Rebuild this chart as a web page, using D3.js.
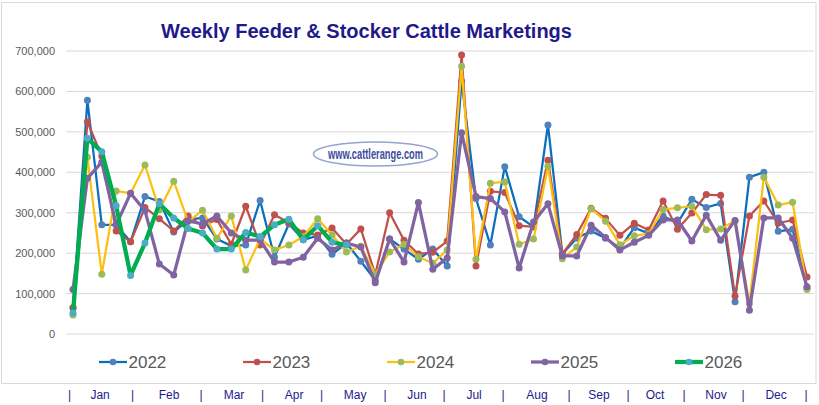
<!DOCTYPE html>
<html>
<head>
<meta charset="utf-8">
<script src="https://cdn.jsdelivr.net/npm/d3@7"></script>
<style>
  html, body { margin: 0; padding: 0; background: #fff; }
  svg { display: block; font-family: "Liberation Sans", Arial, sans-serif; }
</style>
</head>
<body>
<div id="chart"></div>
<script>
// weekly marketings, 52 weeks per year, head count
var y2022 = [65000,578000,270000,270000,228000,340000,328000,252000,283000,287000,235000,218000,220000,330000,190000,272000,233000,243000,197000,225000,180000,133000,235000,210000,185000,210000,168000,625000,335000,220000,414000,290000,265000,517000,198000,237000,255000,237000,212000,263000,249000,292000,274000,333000,313000,323000,80000,388000,400000,254000,259000,113000];
var y2023 = [65000,525000,440000,255000,228000,313000,285000,255000,292000,267000,283000,222000,316000,220000,295000,275000,250000,245000,262000,222000,260000,147000,300000,232000,198000,202000,230000,690000,168000,353000,350000,268000,265000,430000,198000,246000,311000,286000,244000,274000,257000,329000,259000,299000,345000,343000,94000,292000,329000,274000,282000,141000];
var y2024 = [47000,437000,148000,354000,348000,418000,307000,378000,278000,306000,237000,292000,158000,235000,208000,220000,241000,285000,245000,203000,217000,148000,203000,222000,191000,175000,208000,662000,185000,373000,376000,222000,235000,415000,186000,215000,310000,279000,221000,243000,248000,308000,312000,316000,258000,260000,280000,75000,388000,319000,326000,110000];
var y2025 = [110000,385000,425000,270000,348000,305000,173000,146000,280000,272000,292000,250000,232000,232000,178000,178000,190000,237000,208000,225000,215000,127000,235000,178000,325000,160000,188000,498000,340000,335000,302000,163000,277000,322000,193000,193000,269000,239000,208000,227000,244000,282000,282000,230000,294000,232000,281000,59000,287000,287000,237000,117000];
var y2026 = [52000,484000,451000,317000,145000,225000,322000,287000,261000,250000,210000,210000,251000,241000,270000,284000,233000,268000,227000,220000];

var yearNames = ["2022","2023","2024","2025","2026"];
var yearValues = [y2022,y2023,y2024,y2025,y2026];
var lineColors = ["#0a70bd","#c0504d","#fdbf12","#8064a2","#00ad50"];
var dotColors = ["#4f81bd","#c0504d","#9bbb59","#8064a2","#4bacc6"];
var lineWidths = [2.25,2.25,2.25,3.25,4.25];

var yTicks = [0,100000,200000,300000,400000,500000,600000,700000];
var months = ["Jan","Feb","Mar","Apr","May","Jun","Jul","Aug","Sep","Oct","Nov","Dec"];
// week position of the month labels and of the bars between them
var monthWeeks = [1.88,6.67,11.19,15.36,19.6,23.9,27.87,32.24,36.55,40.44,44.68,48.85];
var sepWeeks = [-0.24,4.13,8.9,13.17,17.27,21.68,25.78,29.88,34.47,38.57,42.46,46.56,50.94];

var W = 819, H = 405;
var svg = d3.select("#chart").append("svg").attr("width", W).attr("height", H);

var x = d3.scaleLinear().domain([0, 51]).range([73, 807]);
var y = d3.scaleLinear().domain([0, 700000]).range([334, 51]);

// marco del chart
svg.append("rect").attr("x", 1.5).attr("y", 2.5).attr("width", 814.5).attr("height", 381)
  .attr("fill", "#fff").attr("stroke", "#d9d9d9");

svg.append("text").attr("x", 366.5).attr("y", 38).attr("text-anchor", "middle")
  .attr("font-size", 20).attr("font-weight", "bold").attr("fill", "#1f1a8c")
  .text("Weekly Feeder & Stocker Cattle Marketings");

var fmt = d3.format(",");
var gy = svg.append("g");
gy.selectAll("line").data(yTicks).enter().append("line")
  .attr("x1", 66).attr("x2", 814)
  .attr("y1", function (d) { return y(d); }).attr("y2", function (d) { return y(d); })
  .attr("stroke", "#d9d9d9").attr("stroke-width", 1);
gy.selectAll("text").data(yTicks).enter().append("text")
  .attr("x", 55).attr("y", function (d) { return y(d) + 4; })
  .attr("text-anchor", "end").attr("font-size", 11).attr("fill", "#595959")
  .text(function (d) { return fmt(d); });

// el logo va debajo de las lineas
var logo = svg.append("g");
logo.append("ellipse").attr("cx", 375.5).attr("cy", 154).attr("rx", 62).attr("ry", 12)
  .attr("fill", "#fff").attr("stroke", "#97a3d0").attr("stroke-width", 1.5);
logo.append("text").attr("x", 375.5).attr("y", 158.5).attr("text-anchor", "middle")
  .attr("font-size", 14).attr("font-weight", "bold").attr("fill", "#3d4c9e")
  .attr("textLength", 95).attr("lengthAdjust", "spacingAndGlyphs")
  .text("www.cattlerange.com");

var line = d3.line().x(function (d, i) { return x(i); }).y(function (d) { return y(d); });

yearValues.forEach(function (vals, k) {
  var g = svg.append("g");
  g.append("path").attr("d", line(vals)).attr("fill", "none")
    .attr("stroke", lineColors[k]).attr("stroke-width", lineWidths[k])
    .attr("stroke-linejoin", "round");
  g.selectAll("circle").data(vals).enter().append("circle")
    .attr("cx", function (d, i) { return x(i); })
    .attr("cy", function (d) { return y(d); })
    .attr("r", 3.5).attr("fill", dotColors[k]);
});

// leyenda
var legend = d3.scaleLinear().domain([0, 4]).range([99, 675]);
yearNames.forEach(function (name, k) {
  var lx = legend(k);
  svg.append("line").attr("x1", lx).attr("x2", lx + 28).attr("y1", 362).attr("y2", 362)
    .attr("stroke", lineColors[k]).attr("stroke-width", lineWidths[k]);
  svg.append("circle").attr("cx", lx + 14).attr("cy", 362).attr("r", 3.3).attr("fill", dotColors[k]);
  svg.append("text").attr("x", lx + 29.5).attr("y", 367.5).attr("font-size", 17).attr("fill", "#595959").text(name);
});

// meses abajo, fuera del marco
svg.selectAll("text.mes").data(months).enter().append("text").attr("class", "mes")
  .attr("x", function (d, i) { return x(monthWeeks[i]); }).attr("y", 399)
  .attr("text-anchor", "middle").attr("font-size", 12).attr("fill", "#1f1a8c")
  .text(function (d) { return d; });
svg.selectAll("text.sep").data(sepWeeks).enter().append("text").attr("class", "sep")
  .attr("x", function (d) { return x(d); }).attr("y", 399)
  .attr("text-anchor", "middle").attr("font-size", 12).attr("fill", "#1f1a8c")
  .text("|");
</script>
</body>
</html>
